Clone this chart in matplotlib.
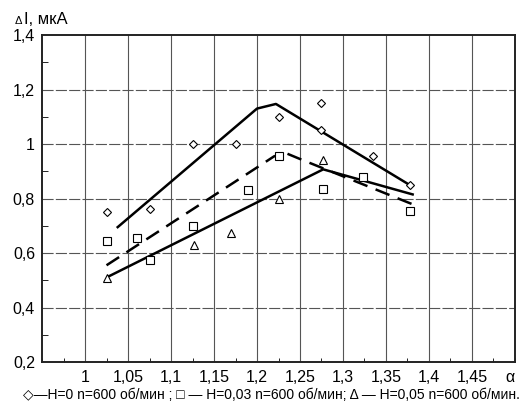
import matplotlib
matplotlib.use("Agg")
import matplotlib.pyplot as plt
from matplotlib.ticker import FixedLocator, MultipleLocator

plt.rcParams['font.family'] = ['Liberation Sans', 'DejaVu Sans']

# measured points, H=0 / 0.03 / 0.05, n=600 rpm
x_h0 = [1.025, 1.075, 1.125, 1.175, 1.225, 1.275, 1.275, 1.335, 1.378]
y_h0 = [0.75, 0.76, 1.0, 1.0, 1.10, 1.15, 1.05, 0.955, 0.85]

x_h03 = [1.025, 1.06, 1.075, 1.125, 1.19, 1.225, 1.277, 1.323, 1.378]
y_h03 = [0.645, 0.655, 0.575, 0.70, 0.83, 0.955, 0.835, 0.88, 0.755]

x_h05 = [1.026, 1.127, 1.17, 1.225, 1.277]
y_h05 = [0.51, 0.63, 0.675, 0.80, 0.94]

# fitted curves
fit_x_h0 = [1.038, 1.2, 1.222, 1.38]
fit_y_h0 = [0.695, 1.13, 1.147, 0.845]
fit_x_h03 = [1.025, 1.22, 1.234, 1.25, 1.38]
fit_y_h03 = [0.555, 0.955, 0.966, 0.945, 0.78]
fit_x_h05 = [1.028, 1.277, 1.381]
fit_y_h05 = [0.515, 0.907, 0.815]

xticks = [1.0, 1.05, 1.1, 1.15, 1.2, 1.25, 1.3, 1.35, 1.4, 1.45, 1.494]
xlabels = ['1', '1,05', '1,1', '1,15', '1,2', '1,25', '1,3', '1,35', '1,4', '1,45', 'α']
yticks = [0.2, 0.4, 0.6, 0.8, 1.0, 1.2, 1.4]
ylabels = ['0,2', '0,4', '0,6', '0,8', '1', '1,2', '1,4']

fig = plt.figure(figsize=(5.32, 4.08), dpi=100)
ax = fig.add_axes([0.079, 0.1127, 0.889, 0.8015])

ax.set_xlim(0.95, 1.5)
ax.set_ylim(0.2, 1.4)

for xv in xticks[:-1]:
    ax.axvline(xv, color='#555555', lw=0.8, zorder=0)
for yv in yticks[1:-1]:
    ax.axhline(yv, color='#555555', lw=0.8, ls=(0, (10, 2)), zorder=0)

ax.plot(fit_x_h0, fit_y_h0, color='black', lw=1.8)
ax.plot(fit_x_h03, fit_y_h03, color='black', lw=1.8, ls=(0, (6, 3.5)))
ax.plot(fit_x_h05, fit_y_h05, color='black', lw=1.8)

mk = dict(ls='none', mfc='white', mec='black', mew=0.8, zorder=3)
ax.plot(x_h0, y_h0, marker='D', ms=4.2, **mk)
ax.plot(x_h03, y_h03, marker='s', ms=6, **mk)
ax.plot(x_h05, y_h05, marker='^', ms=6, **mk)

ax.xaxis.set_major_locator(FixedLocator(xticks))
ax.set_xticklabels(xlabels)
ax.xaxis.set_minor_locator(MultipleLocator(0.025))
ax.yaxis.set_major_locator(FixedLocator(yticks))
ax.set_yticklabels(ylabels)
ax.yaxis.set_minor_locator(MultipleLocator(0.1))
ax.tick_params(axis='x', which='major', length=0, pad=6, labelsize=11.5)
ax.tick_params(axis='x', which='minor', length=3, direction='in')
ax.tick_params(axis='y', which='major', length=0, pad=5, labelsize=11.5)
ax.tick_params(axis='y', which='minor', length=4, direction='in')

for s in ax.spines.values():
    s.set_linewidth(1.4)
    s.set_color('#222222')

fig.text(0.028, 0.941, 'Δ', fontsize=8, ha='left', va='baseline')
fig.text(0.046, 0.941, 'I, мкА', fontsize=12, ha='left', va='baseline')

fig.text(0.51, 0.022,
         '◇—H=0 n=600 об/мин ; □ — H=0,03 n=600 об/мин; Δ — H=0,05 n=600 об/мин.',
         fontsize=10.0, ha='center', va='baseline')

fig.savefig('out.png', dpi=100)
